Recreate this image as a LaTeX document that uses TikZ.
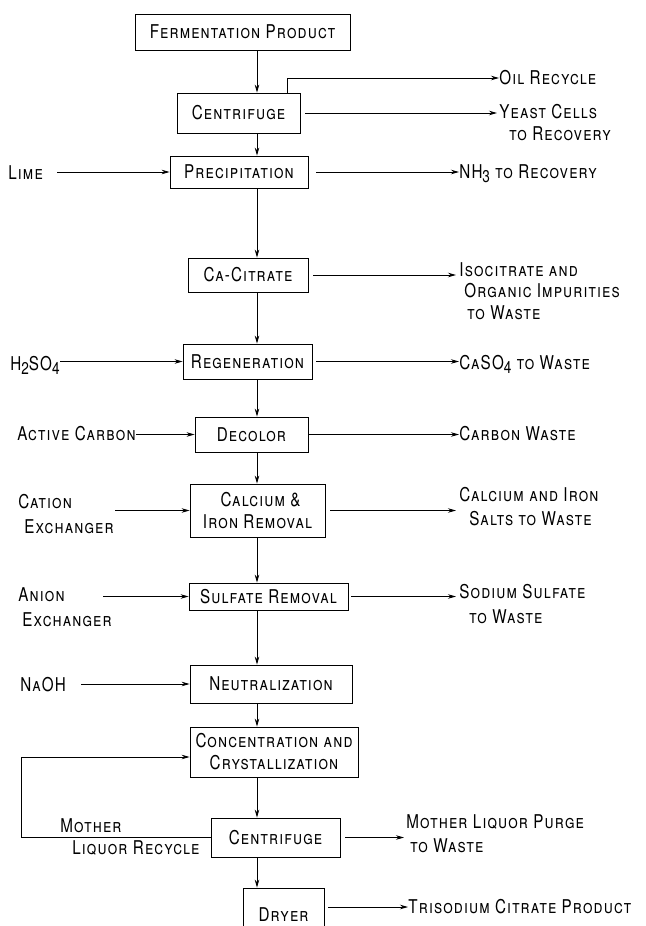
\documentclass[tikz,border=0pt]{standalone}
\usepackage{fontspec}
\setmainfont{TeX Gyre Heros}[Letters=SmallCaps,LetterSpace=6,FakeStretch=0.8]
\usetikzlibrary{arrows.meta}
\newcommand\lowd[1]{\raisebox{-4pt}{\fontsize{17}{17}\selectfont #1}}
\newcommand\bx[6]{\node[box, minimum width={(#4-#2)*1pt}, minimum height={(#5-#3)*1pt}] (#1) at ({(#2+#4)/2},{(#3+#5)/2}) {#6};}
\begin{document}
\begin{tikzpicture}[x=1pt,y=-1pt, line width=0.8pt, >={Stealth[length=8pt,width=4.5pt]},
  box/.style={draw, inner sep=0pt, font=\fontsize{19}{22}\selectfont, align=center},
  lbl/.style={inner sep=0pt, font=\fontsize{19}{21.5}\selectfont, align=left}]
\useasboundingbox (0,0) rectangle (645,926);
\clip (0,0) rectangle (645,926);
\coordinate (sp) at (257,0);
\coordinate (rl) at (21,0);
% boxes
\bx{fp}{135}{14}{350}{50}{Fermentation Product}
\bx{cfa}{177}{93}{300}{133}{Centrifuge}
\bx{prec}{170}{156}{308}{188}{Precipitation}
\bx{cacit}{188}{258}{308}{292}{Ca-Citrate}
\bx{regen}{183}{344}{312}{379}{Regeneration}
\bx{decol}{195}{417}{308}{452}{Decolor}
\bx{cafe}{190}{484}{325}{537}{\hspace*{6pt}Calcium \&\\Iron Removal}
\bx{sulf}{189}{583}{348}{610}{Sulfate Removal}
\bx{neut}{190}{665}{352}{703}{Neutralization}
\bx{conc}{190}{727}{358}{777}{Concentration and\\Crystallization}
\bx{cfb}{211}{818}{340}{857}{Centrifuge}
\bx{dryer}{243}{888}{324}{942}{Dryer}
% spine
\draw[->] (fp.south -| sp) -- (cfa.north -| sp);
\draw[->] (cfa.south -| sp) -- (prec.north -| sp);
\draw[->] (prec.south -| sp) -- (cacit.north -| sp);
\draw[->] (cacit.south -| sp) -- (regen.north -| sp);
\draw[->] (regen.south -| sp) -- (decol.north -| sp);
\draw[->] (decol.south -| sp) -- (cafe.north -| sp);
\draw[->] (cafe.south -| sp) -- (sulf.north -| sp);
\draw[->] (sulf.south -| sp) -- (neut.north -| sp);
\draw[->] (neut.south -| sp) -- (conc.north -| sp);
\draw[->] (conc.south -| sp) -- (cfb.north -| sp);
\draw[->] (cfb.south -| sp) -- (dryer.north -| sp);
% centrifuge 1 outputs
\node[lbl, anchor=west] (oil) at (499,78) {Oil Recycle};
\coordinate (oilup) at (287,78);
\draw[->] (cfa.north -| oilup) -- (oilup) -- (oil.west);
\node[lbl, anchor=north west] (yeast) at (499,104) {Yeast Cells\\\hspace*{10pt}to Recovery};
\coordinate (yeastin) at (497,113);
\draw[->] ([xshift=5pt]cfa.east) -- (yeastin);
% precipitation
\node[lbl, anchor=west] (lime) at (8,173) {Lime};
\draw[->] ([xshift=14pt]lime.east |- prec.west) -- (prec.west);
\node[lbl, anchor=west] (nh) at (459,174) {NH\lowd{3} to Recovery};
\draw[->] ([xshift=8pt]prec.east) -- (nh.west |- prec.east);
% ca-citrate
\node[lbl, anchor=north west] (iso) at (459,262) {Isocitrate and\\\hspace*{5pt}Organic Impurities\\\hspace*{8pt}to Waste};
\coordinate (isoin) at (456,0);
\draw[->] ([xshift=5pt]cacit.east) -- (isoin |- cacit.east);
% regeneration
\node[lbl, anchor=west] (hs) at (10,365) {H\lowd{2}SO\lowd{4}};
\draw[->] (hs.east |- regen.west) -- (regen.west);
\node[lbl, anchor=west] (caso) at (459,364) {CaSO\lowd{4} to Waste};
\draw[->] ([xshift=4pt]regen.east) -- (caso.west |- regen.east);
% decolor
\node[lbl, anchor=west] (ac) at (17,434) {Active Carbon};
\draw[->] (ac.east |- decol.west) -- (decol.west);
\node[lbl, anchor=west] (cw) at (459,434) {Carbon Waste};
\draw[->] (decol.east) -- (cw.west |- decol.east);
% calcium & iron
\node[lbl, anchor=north west] (cat) at (18,494) {Cation\\[3pt]\hspace*{6pt}Exchanger};
\coordinate (catin) at (115,0);
\draw[->] (catin |- cafe.west) -- (cafe.west);
\node[lbl, anchor=north west] (cai) at (459,487) {Calcium and Iron\\[2pt]\hspace*{10pt}Salts to Waste};
\coordinate (caiin) at (456,0);
\draw[->] ([xshift=5pt]cafe.east) -- (caiin |- cafe.east);
% sulfate
\node[lbl, anchor=north west] (an) at (18,587) {Anion\\[4pt]\hspace*{4pt}Exchanger};
\coordinate (anin) at (103,0);
\draw[->] (anin |- sulf.west) -- (sulf.west);
\node[lbl, anchor=north west] (ss) at (459,584) {Sodium Sulfate\\[3pt]\hspace*{10pt}to Waste};
\coordinate (ssin) at (456,0);
\draw[->] ([xshift=3pt]sulf.east) -- (ssin |- sulf.east);
% neutralization
\node[lbl, anchor=west] (naoh) at (20,685) {NaOH};
\draw[->] ([xshift=15pt]naoh.east |- neut.west) -- (neut.west);
% recycle
\draw[->] (cfb.west) -- (cfb.west -| rl) |- ([yshift=-5pt]conc.west);
\node[lbl, anchor=west] (mo) at (60,826) {Mother};
\node[lbl, anchor=west] (lr) at (72,848) {Liquor Recycle};
% centrifuge 2 output
\node[lbl, anchor=north west] (mlp) at (406,814) {Mother Liquor Purge\\[3pt]\hspace*{4pt}to Waste};
\coordinate (mlpin) at (404,0);
\draw[->] ([xshift=5pt]cfb.east) -- (mlpin |- cfb.east);
% dryer output
\node[lbl, anchor=west] (tsc) at (408,907) {Trisodium Citrate Product};
\coordinate (dro) at ([yshift=8pt]dryer.east);
\draw[->] ([xshift=4pt]dro) -- (tsc.west |- dro);
\end{tikzpicture}
\end{document}
